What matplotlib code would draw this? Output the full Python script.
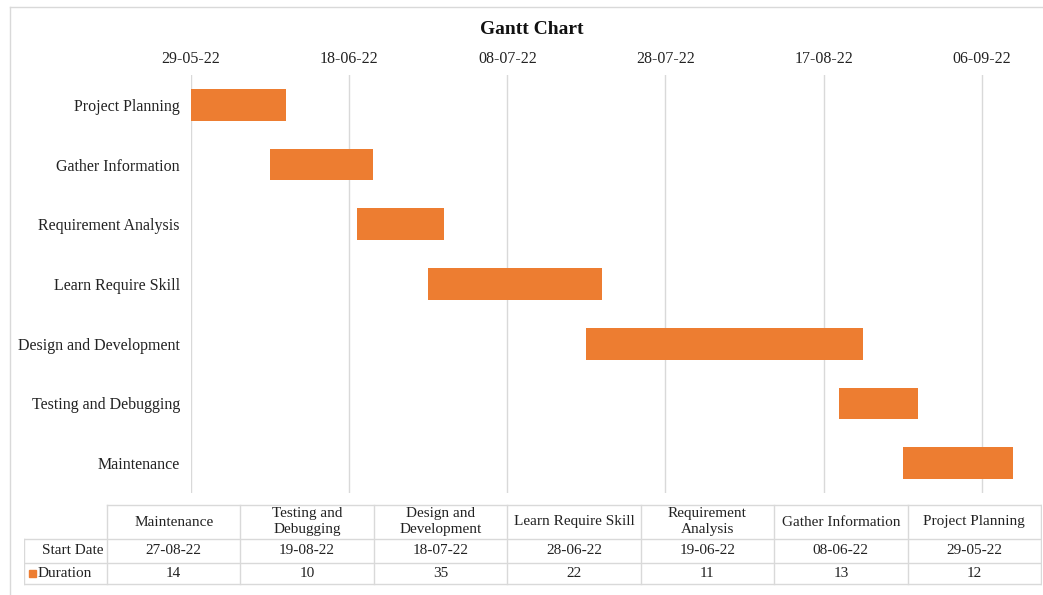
import matplotlib
matplotlib.use("Agg")
import matplotlib.pyplot as plt
import matplotlib.dates as mdates
from matplotlib.patches import Rectangle
from datetime import datetime, timedelta

plt.rcParams["font.family"] = ["Liberation Serif", "DejaVu Serif"]

tasks = [
    "Project Planning",
    "Gather Information",
    "Requirement Analysis",
    "Learn Require Skill",
    "Design and Development",
    "Testing and Debugging",
    "Maintenance",
]
start_dates = ["29-05-22", "08-06-22", "19-06-22", "28-06-22", "18-07-22", "19-08-22", "27-08-22"]
durations = [12, 13, 11, 22, 35, 10, 14]

# table header labels (Excel shows them in reverse order, some wrapped)
table_headers = [
    "Maintenance",
    "Testing and\nDebugging",
    "Design and\nDevelopment",
    "Learn Require Skill",
    "Requirement\nAnalysis",
    "Gather Information",
    "Project Planning",
]

ORANGE = "#ED7D31"
GRID = "#d9d9d9"
TEXT = "#222222"

W, H = 1043, 595
starts = [datetime.strptime(s, "%d-%m-%y") for s in start_dates]
x0 = starts[0]
ticks = [x0 + timedelta(days=20 * k) for k in range(6)]

fig = plt.figure(figsize=(W / 100, H / 100), dpi=100)

# chart area border
fig.add_artist(plt.Line2D([10 / W, 10 / W], [1 - 7 / H, 0], color=GRID, lw=1))
fig.add_artist(plt.Line2D([10 / W, 1], [1 - 7 / H, 1 - 7 / H], color=GRID, lw=1))

ax = fig.add_axes([191 / W, 1 - 493 / H, (1037 - 191) / W, (493 - 75) / H])
ax.barh(
    range(len(tasks)),
    durations,
    left=mdates.date2num(starts),
    height=0.53,
    color=ORANGE,
    zorder=3,
)
ax.set_ylim(len(tasks) - 0.5, -0.5)
ax.set_xlim(mdates.date2num(x0), mdates.date2num(x0 + timedelta(days=107)))
ax.set_yticks(range(len(tasks)))
ax.set_yticklabels(tasks, fontsize=11.5, color=TEXT)
ax.xaxis.tick_top()
ax.set_xticks(mdates.date2num(ticks))
ax.xaxis.set_major_formatter(mdates.DateFormatter("%d-%m-%y"))
ax.tick_params(axis="x", length=0, pad=6, labelsize=11.5, colors=TEXT)
ax.tick_params(axis="y", length=0, pad=8)
for t in ticks:
    ax.axvline(mdates.date2num(t), color=GRID, lw=1, zorder=1)
for s in ax.spines.values():
    s.set_visible(False)

fig.text(532 / W, 1 - 30 / H, "Gantt Chart", ha="center", va="center",
         fontsize=14, fontweight="bold", color="#111111")

# data table under the chart
tax = fig.add_axes([24 / W, 1 - 586 / H, (1042 - 24) / W, (586 - 504) / H])
tax.set_xlim(24, 1042)
tax.set_ylim(586, 504)
tax.axis("off")

left_col, right_col = 107, 1041
col_w = (right_col - left_col) / len(table_headers)
rows = [505, 539, 563, 584]
lk = dict(color=GRID, lw=1)
tax.plot([left_col, right_col], [rows[0], rows[0]], **lk)
for r in rows[1:]:
    tax.plot([24, right_col], [r, r], **lk)
tax.plot([24, 24], [rows[1], rows[3]], **lk)
for i in range(len(table_headers) + 1):
    xc = left_col + i * col_w
    tax.plot([xc, xc], [rows[0], rows[3]], **lk)

ts = 11
for i, (hdr, sd, du) in enumerate(zip(table_headers, start_dates[::-1], durations[::-1])):
    cx = left_col + (i + 0.5) * col_w
    tax.text(cx, (rows[0] + rows[1]) / 2, hdr, ha="center", va="center",
             fontsize=ts, color=TEXT, linespacing=1.3)
    tax.text(cx, (rows[1] + rows[2]) / 2, sd, ha="center", va="center", fontsize=ts, color=TEXT)
    tax.text(cx, (rows[2] + rows[3]) / 2, str(du), ha="center", va="center", fontsize=ts, color=TEXT)

tax.text(104, (rows[1] + rows[2]) / 2, "Start Date", ha="right", va="center", fontsize=ts, color=TEXT)
tax.add_patch(Rectangle((29, 569.5), 7, 7, color=ORANGE))
tax.text(38, (rows[2] + rows[3]) / 2, "Duration", ha="left", va="center", fontsize=ts, color=TEXT)

fig.savefig("out.png", dpi=100)
